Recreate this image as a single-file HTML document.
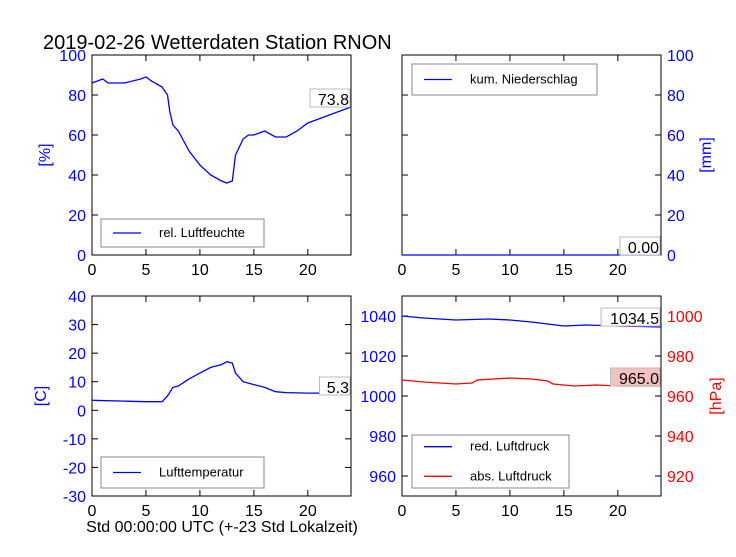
<!DOCTYPE html>
<html><head><meta charset="utf-8"><style>body{margin:0;background:#fff}svg{font-family:"Liberation Sans",sans-serif}</style></head>
<body>
<svg id="c" width="736" height="552">
<rect width="736" height="552" fill="#fff"/>
<text x="43" y="49" font-size="20">2019-02-26 Wetterdaten Station RNON</text>
<text x="222" y="532" font-size="16" text-anchor="middle">Std 00:00:00 UTC (+-23 Std Lokalzeit)</text>
</svg>
<script>
const hours=[0,5,10,15,20];
const humT=[0,1,1.5,3,4.5,5,5.5,6.5,7,7.2,7.5,8,9,10,11,12,12.5,13,13.3,14,14.5,15,16,17,18,19,20,21,22,23,24];
const humV=[86,88,86,86,88,89,87,84,80,72,65,62,52,45,40,37,36,37,50,58,60,60,62,59,59,62,66,68,70,72,74];
const rainT=[0,24];const rainV=[0,0];
const tmpT=[0,3,5,6.5,7,7.5,8,9,10,11,12,12.5,13,13.3,14,15,16,17,18,20,22,24];
const tmpV=[3.5,3.2,3,3,5,8,8.5,11,13,15,16,17,16.5,13,10,9,8,6.5,6.2,6,6,5.5];
const redT=[0,2,5,8,10,12,15,17,20,24];
const redV=[1040,1039,1038,1038.5,1038,1037,1035,1035.5,1035,1034.5];
const absT=[0,2,5,6.5,7,10,12,13.5,14,16,18,20,24];
const absV=[968,967,966,966.5,968,969,968.5,967.5,966,965,965.5,965,965];
const humTicks=[0,20,40,60,80,100],tmpTicks=[-30,-20,-10,0,10,20,30,40],redTicks=[960,980,1000,1020,1040],absTicks=[920,940,960,980,1000];
const NS='http://www.w3.org/2000/svg',svg=document.getElementById('c');
function mk(t,a,txt){const e=document.createElementNS(NS,t);for(const k in a)e.setAttribute(k,a[k]);if(txt!==undefined)e.textContent=txt;svg.appendChild(e);return e;}
function panel(x0,y0,name){
 const g={x0,y0,w:259,h:200,xs:h=>x0+h/24*259};
 const r=mk('rect',{x:x0,y:y0,width:259,height:200,fill:'none',stroke:'#000'});
 
 hours.forEach(h=>{const x=g.xs(h);mk('line',{x1:x,y1:y0+200,x2:x,y2:y0+194,stroke:'#000'});mk('line',{x1:x,y1:y0,x2:x,y2:y0+6,stroke:'#000'});
  const t=mk('text',{x:x,y:y0+220,'font-size':16,'text-anchor':'middle'},h);});
 return g;}
function yaxis(g,min,max,ticks,side,color,both){
 const ys=v=>g.y0+200-(v-min)/(max-min)*200;
 ticks.forEach(v=>{const y=ys(v);
  if(side==='l'||both){mk('line',{x1:g.x0,y1:y,x2:g.x0+6,y2:y,stroke:'#000'});}
  if(side==='r'||both){mk('line',{x1:g.x0+259,y1:y,x2:g.x0+253,y2:y,stroke:'#000'});}
  const t=mk('text',{x:side==='l'?g.x0-6:g.x0+265,y:y+6,'font-size':16,fill:color,'text-anchor':side==='l'?'end':'start'},v);
  });
 return ys;}
function line(g,ys,T,V,color,name){const d=T.map((t,i)=>(i?'L':'M')+g.xs(t).toFixed(1)+','+ys(V[i]).toFixed(1)).join('');
 const p=mk('path',{d,fill:'none',stroke:color,'stroke-width':1.3});}
function label(x,y,txt,bg,name){const w=txt.length*9.5;const r=mk('rect',{x:x-w-1,y:y-13,width:w+2,height:18,fill:bg,stroke:'#bbb'});
 const t=mk('text',{x:x,y:y+3,'font-size':16,'text-anchor':'end'},txt);}
function legend(x,y,w,h,items,name){const r=mk('rect',{x,y,width:w,height:h,fill:'#fff',stroke:'#888'});
 items.forEach((it,i)=>{const yy=y+h/(items.length+1)*(i+1)+ (items.length>1?(i?6:-6):0);mk('line',{x1:x+12,y1:yy,x2:x+40,y2:yy,stroke:it[1],'stroke-width':1.3});
 const t=mk('text',{x:x+58,y:yy+4,'font-size':13},it[0]);});}
function ytitle(x,y,txt,color,name){const t=mk('text',{x,y,'font-size':16,fill:color,'text-anchor':'middle',transform:`rotate(-90 ${x} ${y})`},txt);}
g=panel(92,55,'humidity-panel');let ys=yaxis(g,0,100,humTicks,'l','#00f',true);
line(g,ys,humT,humV,'#00f','humidity-line');label(349,102,'73.8','#fff','humidity-last-value');
legend(101,219,163,28,[['rel. Luftfeuchte','#00f']],'humidity-legend');ytitle(50,155,'[%]','#00f','humidity-y-title');
g=panel(402,55,'rain-panel');ys=yaxis(g,0,100,humTicks,'r','#00f',true);
line(g,ys,rainT,rainV,'#00f','rain-line');label(659,250,'0.00','#fff','rain-last-value');
legend(412,64,185,31,[['kum. Niederschlag','#00f']],'rain-legend');ytitle(711,155,'[mm]','#00f','rain-y-title');
g=panel(92,296,'temperature-panel');ys=yaxis(g,-30,40,tmpTicks,'l','#00f',true);
line(g,ys,tmpT,tmpV,'#00f','temperature-line');label(349,390,'5.3','#fff','temperature-last-value');
legend(101,457,163,31,[['Lufttemperatur','#00f']],'temperature-legend');ytitle(46,396,'[C]','#00f','temperature-y-title');
g=panel(402,296,'pressure-panel');ys=yaxis(g,950,1050,redTicks,'l','#00f',false);const ys2=yaxis(g,910,1010,absTicks,'r','#f00',false);
line(g,ys,redT,redV,'#00f','red-pressure-line');line(g,ys2,absT,absV,'#f00','abs-pressure-line');
label(659,321,'1034.5','#fff','red-pressure-last-value');label(659,381,'965.0','#f5c0c0','abs-pressure-last-value');
legend(412,435,157,53,[['red. Luftdruck','#00f'],['abs. Luftdruck','#f00']],'pressure-legend');ytitle(721,396,'[hPa]','#f00','pressure-y-title');
</script>
</body></html>
